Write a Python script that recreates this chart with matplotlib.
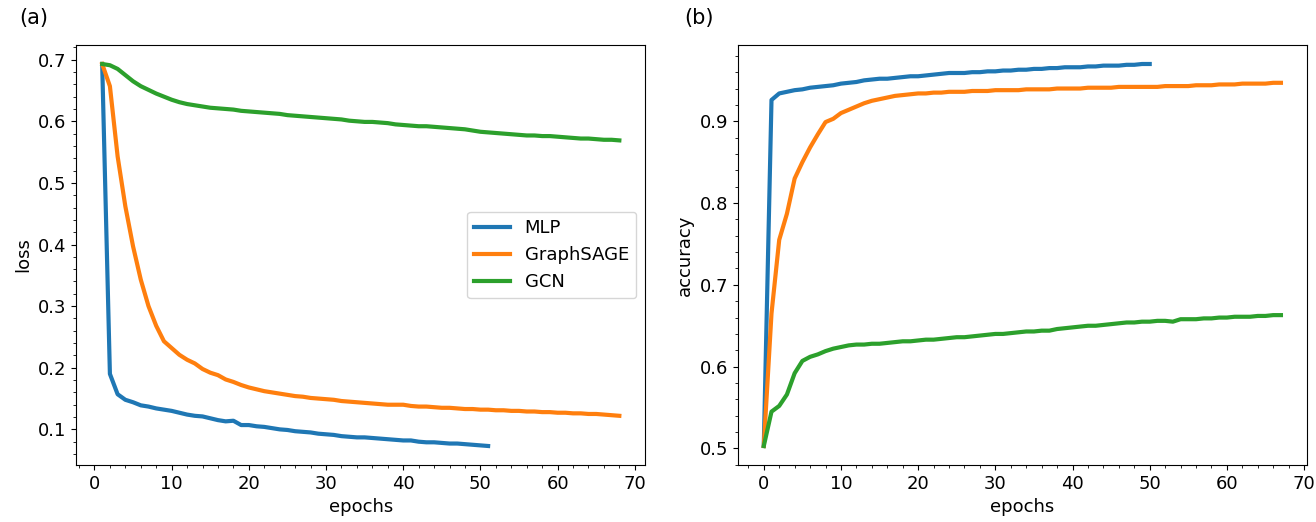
import matplotlib
matplotlib.use("Agg")
import matplotlib.pyplot as plt

plt.rcParams['font.size'] = 13

# training loss per epoch (epochs start at 1)
mlp_loss = [0.693, 0.190, 0.157, 0.148, 0.144, 0.139, 0.137, 0.134, 0.132, 0.130,
            0.127, 0.124, 0.122, 0.121, 0.118, 0.115, 0.113, 0.114, 0.107, 0.107,
            0.105, 0.104, 0.102, 0.100, 0.099, 0.097, 0.096, 0.095, 0.093, 0.092,
            0.091, 0.089, 0.088, 0.087, 0.087, 0.086, 0.085, 0.084, 0.083, 0.082,
            0.082, 0.080, 0.079, 0.079, 0.078, 0.077, 0.077, 0.076, 0.075, 0.074,
            0.073]
sage_loss = [0.693, 0.657, 0.543, 0.462, 0.397, 0.343, 0.300, 0.268, 0.243, 0.232,
             0.221, 0.213, 0.207, 0.198, 0.192, 0.188, 0.181, 0.177, 0.172, 0.168,
             0.165, 0.162, 0.160, 0.158, 0.156, 0.154, 0.153, 0.151, 0.150, 0.149,
             0.148, 0.146, 0.145, 0.144, 0.143, 0.142, 0.141, 0.140, 0.140, 0.140,
             0.138, 0.137, 0.137, 0.136, 0.135, 0.135, 0.134, 0.133, 0.133, 0.132,
             0.132, 0.131, 0.131, 0.130, 0.130, 0.129, 0.129, 0.128, 0.128, 0.127,
             0.127, 0.126, 0.126, 0.125, 0.125, 0.124, 0.123, 0.122]
gcn_loss = [0.693, 0.691, 0.685, 0.675, 0.665, 0.657, 0.651, 0.645, 0.640, 0.635,
            0.631, 0.628, 0.626, 0.624, 0.622, 0.621, 0.620, 0.619, 0.617, 0.616,
            0.615, 0.614, 0.613, 0.612, 0.610, 0.609, 0.608, 0.607, 0.606, 0.605,
            0.604, 0.603, 0.601, 0.600, 0.599, 0.599, 0.598, 0.597, 0.595, 0.594,
            0.593, 0.592, 0.592, 0.591, 0.590, 0.589, 0.588, 0.587, 0.585, 0.583,
            0.582, 0.581, 0.580, 0.579, 0.578, 0.577, 0.577, 0.576, 0.576, 0.575,
            0.574, 0.573, 0.572, 0.572, 0.571, 0.570, 0.570, 0.569]

# accuracy per epoch (epochs start at 0)
mlp_acc = [0.503, 0.926, 0.934, 0.936, 0.938, 0.939, 0.941, 0.942, 0.943, 0.944,
           0.946, 0.947, 0.948, 0.950, 0.951, 0.952, 0.952, 0.953, 0.954, 0.955,
           0.955, 0.956, 0.957, 0.958, 0.959, 0.959, 0.959, 0.960, 0.960, 0.961,
           0.961, 0.962, 0.962, 0.963, 0.963, 0.964, 0.964, 0.965, 0.965, 0.966,
           0.966, 0.966, 0.967, 0.967, 0.968, 0.968, 0.968, 0.969, 0.969, 0.970,
           0.970]
sage_acc = [0.503, 0.665, 0.755, 0.787, 0.830, 0.850, 0.868, 0.884, 0.899, 0.903,
            0.910, 0.914, 0.918, 0.922, 0.925, 0.927, 0.929, 0.931, 0.932, 0.933,
            0.934, 0.934, 0.935, 0.935, 0.936, 0.936, 0.936, 0.937, 0.937, 0.937,
            0.938, 0.938, 0.938, 0.938, 0.939, 0.939, 0.939, 0.939, 0.940, 0.940,
            0.940, 0.940, 0.941, 0.941, 0.941, 0.941, 0.942, 0.942, 0.942, 0.942,
            0.942, 0.942, 0.943, 0.943, 0.943, 0.943, 0.944, 0.944, 0.944, 0.945,
            0.945, 0.945, 0.946, 0.946, 0.946, 0.946, 0.947, 0.947]
gcn_acc = [0.503, 0.545, 0.552, 0.566, 0.592, 0.607, 0.612, 0.615, 0.619, 0.622,
           0.624, 0.626, 0.627, 0.627, 0.628, 0.628, 0.629, 0.630, 0.631, 0.631,
           0.632, 0.633, 0.633, 0.634, 0.635, 0.636, 0.636, 0.637, 0.638, 0.639,
           0.640, 0.640, 0.641, 0.642, 0.643, 0.643, 0.644, 0.644, 0.646, 0.647,
           0.648, 0.649, 0.650, 0.650, 0.651, 0.652, 0.653, 0.654, 0.654, 0.655,
           0.655, 0.656, 0.656, 0.655, 0.658, 0.658, 0.658, 0.659, 0.659, 0.660,
           0.660, 0.661, 0.661, 0.661, 0.662, 0.662, 0.663, 0.663]

labels = ['MLP', 'GraphSAGE', 'GCN']
colors = ['#1f77b4', '#ff7f0e', '#2ca02c']

fig, (ax1, ax2) = plt.subplots(1, 2, figsize=(13.16, 5.22), dpi=100)
fig.subplots_adjust(left=0.058, right=0.993, top=0.914, bottom=0.109, wspace=0.163)

# (a) loss curves
for ys, lab, c in zip([mlp_loss, sage_loss, gcn_loss], labels, colors):
    ax1.plot(range(1, len(ys) + 1), ys, color=c, lw=3, label=lab)
ax1.set_xlabel('epochs')
ax1.set_ylabel('loss')
ax1.minorticks_on()
ax1.set_xticks(range(0, 71, 10))
ax1.legend(loc='center right')
ax1.text(-0.1, 1.04, '(a)', transform=ax1.transAxes, fontsize=15, va='bottom')

# (b) accuracy curves
for ys, lab, c in zip([mlp_acc, sage_acc, gcn_acc], labels, colors):
    ax2.plot(range(len(ys)), ys, color=c, lw=3, label=lab)
ax2.set_xlabel('epochs')
ax2.set_ylabel('accuracy')
ax2.minorticks_on()
ax2.set_xticks(range(0, 71, 10))
ax2.text(-0.095, 1.04, '(b)', transform=ax2.transAxes, fontsize=15, va='bottom')

plt.savefig('out.png')
